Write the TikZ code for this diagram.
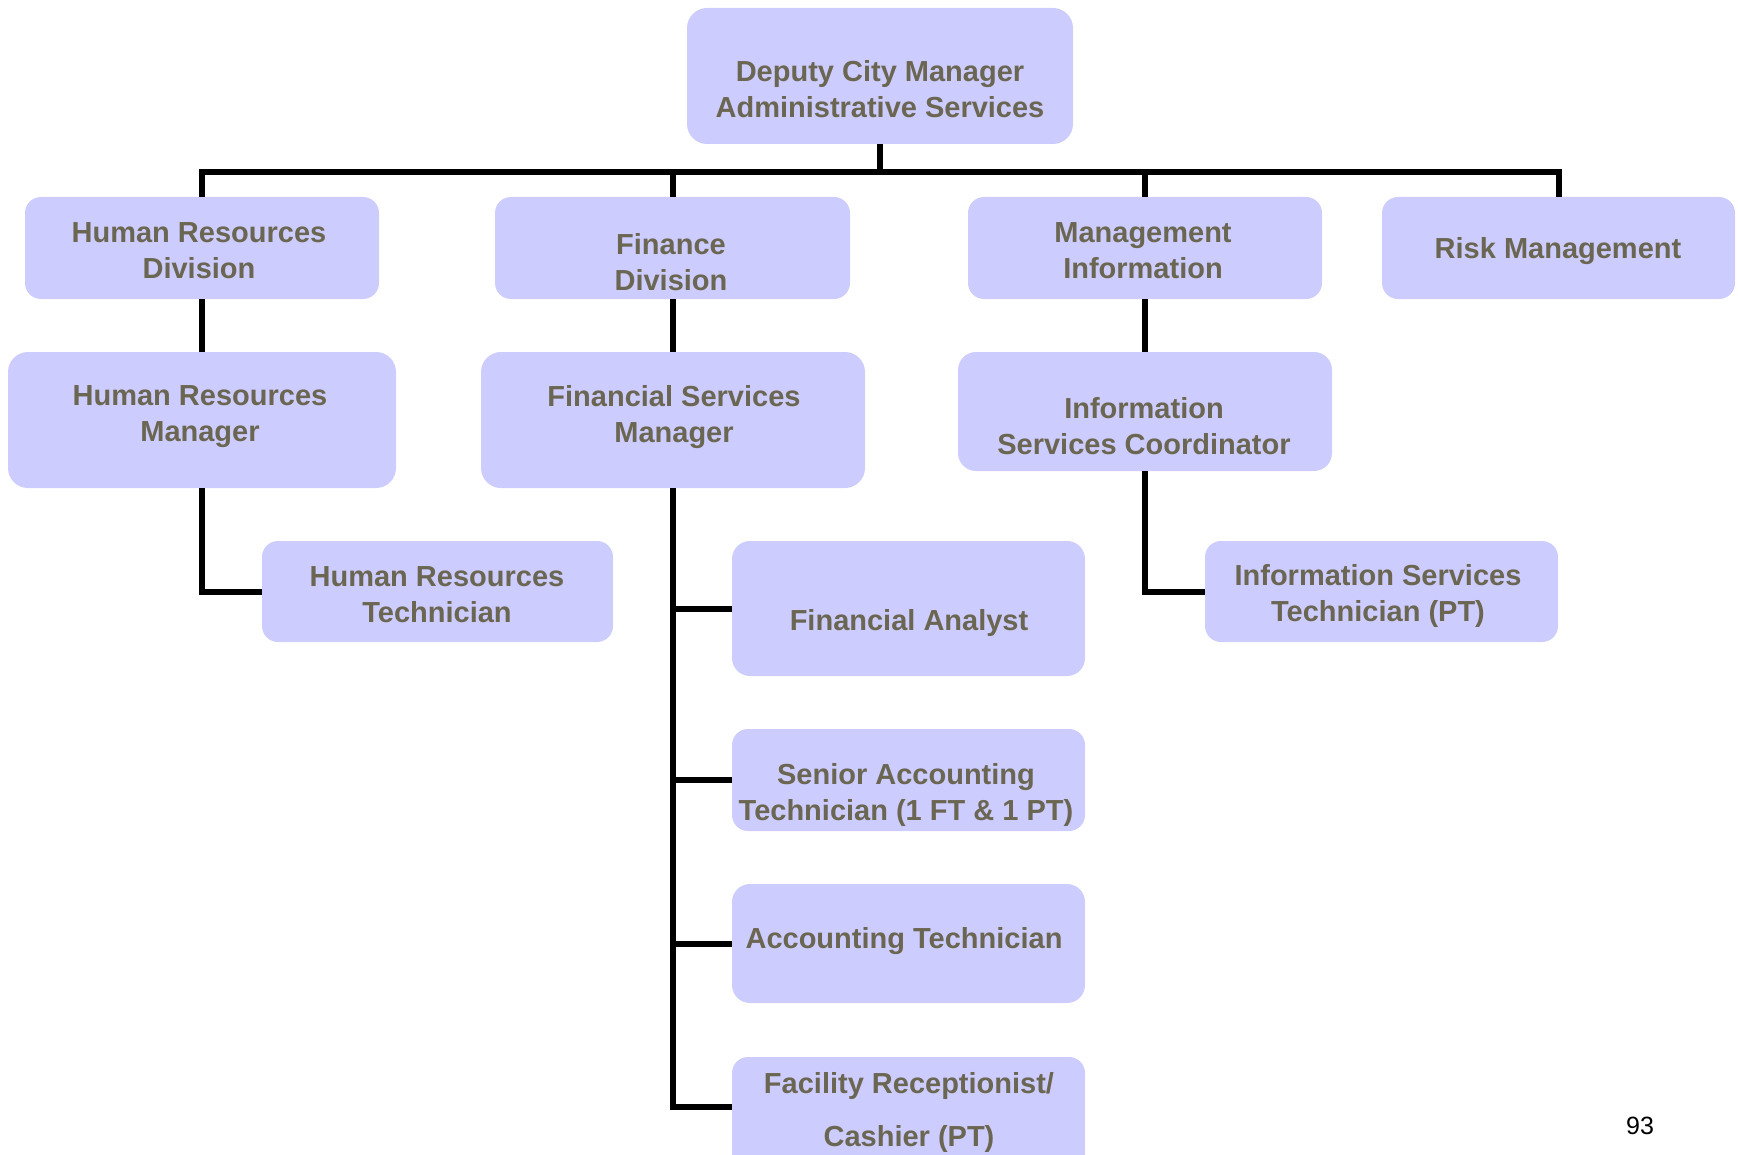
\documentclass[tikz,border=0pt]{standalone}
\usepackage{fontspec}
\setmainfont{Liberation Sans}
\definecolor{boxfill}{RGB}{204,204,255}
\definecolor{labelc}{RGB}{107,102,82}
\begin{document}
\begin{tikzpicture}[x=0.5pt,y=-0.5pt,
  unit/.style={draw=none, fill=boxfill, rounded corners=8pt, inner sep=0pt},
  lbl/.style={text=labelc, font=\bfseries\fontsize{14.5}{18}\selectfont, align=center, inner sep=0pt},
  conn/.style={line width=3pt}]
\useasboundingbox (0,0) rectangle (1738,1155);
\clip (0,0) rectangle (1738,1155);

% boxes
\node[unit, rounded corners=10pt, minimum width=193pt, minimum height=68pt] (top) at (880,76) {};
\node[unit, minimum width=177pt, minimum height=51pt] (hrd) at (202,248) {};
\node[unit, minimum width=177.5pt, minimum height=51pt] (fin) at (672.5,248) {};
\node[unit, minimum width=177pt, minimum height=51pt] (mi) at (1145,248) {};
\node[unit, minimum width=176.5pt, minimum height=51pt] (risk) at (1558.5,248) {};
\node[unit, rounded corners=10pt, minimum width=194pt, minimum height=68pt] (hrm) at (202,420) {};
\node[unit, rounded corners=10pt, minimum width=192pt, minimum height=68pt] (fsm) at (673,420) {};
\node[unit, rounded corners=9pt, minimum width=187pt, minimum height=59.5pt] (isc) at (1145,411.5) {};
\node[unit, minimum width=175.5pt, minimum height=50.5pt] (hrt) at (437.5,591.5) {};
\node[unit, minimum width=176.5pt, minimum height=50.5pt] (ist) at (1381.5,591.5) {};
\node[unit, rounded corners=9pt, minimum width=176.5pt, minimum height=67.5pt] (fa) at (908.5,608.5) {};
\node[unit, minimum width=176.5pt, minimum height=51pt] (sat) at (908.5,780) {};
\node[unit, rounded corners=9pt, minimum width=176.5pt, minimum height=59.5pt] (at) at (908.5,943.5) {};
\node[unit, minimum width=176.5pt, minimum height=70pt] (fr) at (908.5,1127) {};

% labels
\node[lbl] (topt) at (880,89) {Deputy City Manager\\Administrative Services};
\node[lbl] (hrdt) at (199,251) {Human Resources\\Division};
\node[lbl] (fint) at (671,262) {Finance\\Division};
\node[lbl] (mit) at (1143,251) {Management\\Information};
\node[lbl] (riskt) at (1558,251) {Risk Management};
\node[lbl] (hrmt) at (200,417) {Human Resources\\Manager};
\node[lbl] (fsmt) at (674,417) {Financial Services\\Manager};
\node[lbl] (isct) at (1144,426) {Information\\Services Coordinator};
\node[lbl] (hrtt) at (437,595) {Human Resources\\Technician};
\node[lbl] (istt) at (1378,596) {Information Services\\Technician (PT)};
\node[lbl] (fat) at (909,623) {Financial Analyst};
\node[lbl] (satt) at (906,795) {Senior Accounting\\Technician (1 FT \& 1 PT)};
\node[lbl] (att) at (904,941) {Accounting Technician};
\node[lbl, font=\bfseries\fontsize{14.5}{26.5}\selectfont] (frt) at (909,1112) {Facility Receptionist/\\Cashier (PT)};

\node[font=\fontsize{12.5}{15}\selectfont, inner sep=0pt] (pg) at (1640,1126) {93};

% connectors
\coordinate (bus) at (880,172);
\coordinate (frin) at (732,1107);
\draw[conn] (top.south) -- (bus);
\draw[conn] (hrd.north) |- (bus) -| (risk.north);
\draw[conn] (fin.north) -- (fin.north |- bus);
\draw[conn] (mi.north) -- (mi.north |- bus);
\draw[conn] (hrd.south) -- (hrm.north);
\draw[conn] (fin.south) -- (fin.south |- fsm.north);
\draw[conn] (mi.south) -- (isc.north);
\draw[conn] (hrm.south) |- (hrt.west);
\draw[conn] (isc.south) |- (ist.west);
\draw[conn] (fsm.south) |- (frin);
\draw[conn] (fsm.south |- fa.west) -- (fa.west);
\draw[conn] (fsm.south |- sat.west) -- (sat.west);
\draw[conn] (fsm.south |- at.west) -- (at.west);
\end{tikzpicture}
\end{document}
